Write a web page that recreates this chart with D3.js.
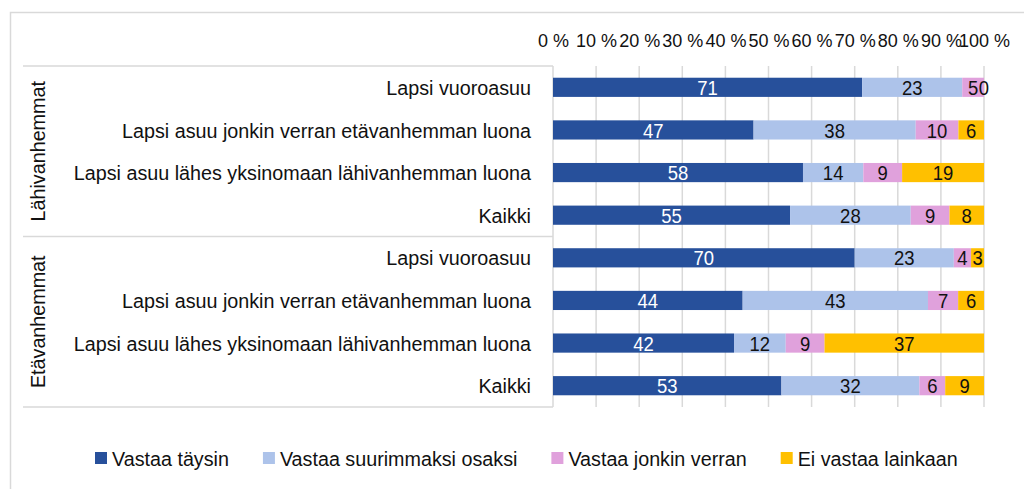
<!DOCTYPE html>
<html>
<head>
<meta charset="utf-8">
<script src="https://cdn.jsdelivr.net/npm/d3@7"></script>
<style>
  body { margin: 0; background: #fff; }
  svg text { font-family: "Liberation Sans", Arial, sans-serif; fill: #111; }
</style>
</head>
<body>
<svg id="svg"></svg>
<script>
  const groups = ["Lähivanhemmat", "Etävanhemmat"];
  const categories = [
    "Lapsi vuoroasuu",
    "Lapsi asuu jonkin verran etävanhemman luona",
    "Lapsi asuu lähes yksinomaan lähivanhemman luona",
    "Kaikki"
  ];
  const seriesNames = ["Vastaa täysin", "Vastaa suurimmaksi osaksi", "Vastaa jonkin verran", "Ei vastaa lainkaan"];
  const seriesColors = ["#27509b", "#adc3ea", "#e0a1dc", "#ffc000"];

  // rows: 4 categories for Lähivanhemmat, then 4 for Etävanhemmat
  const vastaaTaysin = [71, 47, 58, 55, 70, 44, 42, 53];
  const suurimmaksiOsaksi = [23, 38, 14, 28, 23, 43, 12, 32];
  const jonkinVerran = [5, 10, 9, 9, 4, 7, 9, 6];
  const eiLainkaan = [0, 6, 19, 8, 3, 6, 37, 9];

  const tickValues = [0, 10, 20, 30, 40, 50, 60, 70, 80, 90, 100];

  const width = 1024;
  const height = 489;
  const plotLeft = 553;
  const plotRight = 984;
  const plotTop = 66;
  const plotBottom = 407;

  const svg = d3.select("#svg")
      .attr("width", width)
      .attr("height", height);

  // chart frame
  svg.append("rect")
      .attr("x", 10.5).attr("y", 12.5)
      .attr("width", 1030).attr("height", 490)
      .attr("fill", "none")
      .attr("stroke", "#d9d9d9")
      .attr("stroke-width", 1.5);

  const series = [vastaaTaysin, suurimmaksiOsaksi, jonkinVerran, eiLainkaan];
  const rows = [];
  groups.forEach(function(g, gi) {
    categories.forEach(function(c, ci) {
      const i = gi * categories.length + ci;
      const vals = series.map(function(s) { return s[i]; });
      const total = d3.sum(vals);
      let x0 = 0;
      const segs = vals.map(function(v, si) {
        const seg = { series: si, value: v, start: x0, end: x0 + v / total * 100 };
        x0 = seg.end;
        return seg;
      });
      rows.push({ id: i, group: gi, label: c, segs: segs });
    });
  });

  const xScale = d3.scaleLinear()
      .domain([0, 100])
      .range([plotLeft, plotRight]);

  const yScale = d3.scaleBand()
      .domain(rows.map(function(d) { return d.id; }))
      .range([plotTop, plotBottom])
      .paddingInner(0.55)
      .paddingOuter(0.275);

  // helper: stretched text (source glyphs are a bit taller than wide)
  function stretched(sel, x, y, sx) {
    return sel.attr("transform", "translate(" + x + "," + y + ") scale(" + sx + ",1)");
  }

  // gridlines
  svg.append("g")
      .selectAll("line")
      .data(tickValues)
      .enter().append("line")
      .attr("x1", function(d) { return xScale(d); })
      .attr("x2", function(d) { return xScale(d); })
      .attr("y1", plotTop)
      .attr("y2", plotBottom)
      .attr("stroke", "#d9d9d9")
      .attr("stroke-width", 1.5);

  // top axis labels
  const xAxis = svg.append("g")
      .attr("transform", "translate(0, 47)")
      .call(d3.axisTop(xScale).tickValues(tickValues).tickSize(0).tickPadding(0)
        .tickFormat(function(d) { return d + " %"; }));
  xAxis.select(".domain").remove();
  xAxis.selectAll("text")
      .attr("font-size", 18)
      .attr("fill", "#111")
      .attr("dy", 0)
      .style("font-family", "'Liberation Sans', Arial, sans-serif");

  // table lines on the category side
  const sepY = [plotTop, (yScale(3) + yScale.bandwidth() + yScale(4)) / 2, plotBottom];
  svg.append("g")
      .selectAll("line")
      .data(sepY)
      .enter().append("line")
      .attr("x1", 23).attr("x2", plotLeft)
      .attr("y1", function(d) { return d; })
      .attr("y2", function(d) { return d; })
      .attr("stroke", "#d9d9d9")
      .attr("stroke-width", 1.5);

  // category labels
  svg.append("g")
      .selectAll("text")
      .data(rows)
      .enter().append("text")
      .attr("text-anchor", "end")
      .attr("font-size", 21)
      .attr("dy", "0.36em")
      .text(function(d) { return d.label; })
      .each(function(d) {
        stretched(d3.select(this), 531, yScale(d.id) + yScale.bandwidth() / 2, 0.94);
      });

  // group labels
  svg.append("g")
      .selectAll("text")
      .data(groups)
      .enter().append("text")
      .attr("text-anchor", "middle")
      .attr("font-size", 21)
      .attr("transform", function(d, gi) {
        const first = gi * categories.length;
        const last = first + categories.length - 1;
        const cy = (yScale(first) + yScale(last) + yScale.bandwidth()) / 2;
        return "translate(45," + cy + ") rotate(-90) scale(0.94,1)";
      })
      .text(function(d) { return d; });

  // bars
  const rowG = svg.append("g")
      .selectAll("g")
      .data(rows)
      .enter().append("g")
      .attr("transform", function(d) { return "translate(0," + yScale(d.id) + ")"; });

  rowG.selectAll("rect")
      .data(function(d) { return d.segs; })
      .enter().append("rect")
      .attr("x", function(d) { return xScale(d.start); })
      .attr("y", 0)
      .attr("width", function(d) { return xScale(d.end) - xScale(d.start); })
      .attr("height", yScale.bandwidth())
      .attr("fill", function(d) { return seriesColors[d.series]; });

  rowG.selectAll("text")
      .data(function(d) { return d.segs; })
      .enter().append("text")
      .attr("text-anchor", "middle")
      .attr("font-size", 21)
      .attr("dy", "0.36em")
      .style("fill", function(d) { return d.series === 0 ? "#fff" : "#111"; })
      .text(function(d) { return d.value; })
      .each(function(d) {
        stretched(d3.select(this), (xScale(d.start) + xScale(d.end)) / 2, yScale.bandwidth() / 2, 0.88);
      });

  // legend
  const legend = svg.append("g").attr("transform", "translate(0, 458)");
  let lx = 95;
  seriesNames.forEach(function(name, si) {
    legend.append("rect")
        .attr("x", lx).attr("y", -6)
        .attr("width", 12).attr("height", 12)
        .attr("fill", seriesColors[si]);
    const t = legend.append("text")
        .attr("font-size", 21)
        .attr("dy", "0.36em")
        .text(name);
    stretched(t, lx + 17, 0, 0.94);
    lx = lx + 17 + t.node().getComputedTextLength() * 0.94 + 34;
  });
</script>
</body>
</html>
